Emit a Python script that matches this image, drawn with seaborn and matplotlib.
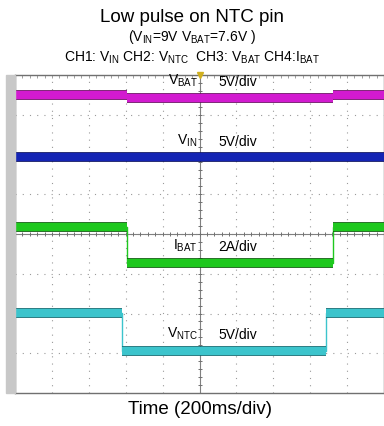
import numpy as np
import pandas as pd
import seaborn as sns
import matplotlib.pyplot as plt
import matplotlib.patheffects as pe
from matplotlib.patches import Rectangle

vbat_t = [0.0, 3.03, 8.62, 10.0]
vbat_v = [7.50, 7.42, 7.50, 7.50]

vin_t = [0.0, 10.0]
vin_v = [5.93, 5.93]

ibat_t = [0.0, 3.03, 8.62, 10.0]
ibat_v = [4.18, 3.27, 4.18, 4.18]

vntc_t = [0.0, 2.89, 8.43, 10.0]
vntc_v = [2.01, 1.06, 2.01, 2.01]

etiquetas = [r"V$_{\mathrm{BAT}}$", r"V$_{\mathrm{IN}}$", r"I$_{\mathrm{BAT}}$", r"V$_{\mathrm{NTC}}$"]
escalas = ["5V/div", "5V/div", "2A/div", "5V/div"]
colores = ["#d21ad0", "#1424b4", "#1ec81e", "#3cc4cc"]
bordes = ["#6a0a62", "#0a1060", "#0a5a0a", "#0e6a70"]

sns.set_theme(style="white")
plt.rcParams["font.family"] = ["Liberation Sans", "DejaVu Sans"]
plt.rcParams["mathtext.fontset"] = "custom"
plt.rcParams["mathtext.rm"] = "Liberation Sans"
plt.rcParams["mathtext.it"] = "Liberation Sans"
plt.rcParams["text.color"] = "black"

fig = plt.figure(figsize=(3.84, 4.26), dpi=100)
ax = fig.add_axes([15 / 384, 1 - 393 / 426, 369 / 384, 318 / 426])

# cuadricula punteada del osciloscopio
for k in range(1, 10):
    ax.axvline(k, color="#9a9a9a", lw=0.8, ls=(0, (1, 5.5)), zorder=0)
for k in range(1, 8):
    ax.axhline(k, color="#9a9a9a", lw=0.8, ls=(0, (1, 5.5)), zorder=0)
ax.axvline(5, color="#808080", lw=0.8, zorder=0)
ax.axhline(4, color="#808080", lw=0.8, zorder=0)
ticks_x = np.arange(0, 10.01, 0.2)
ticks_y = np.arange(0, 8.01, 0.2)
ax.plot(ticks_x, np.full_like(ticks_x, 4), ls="none", marker="|", ms=3, color="#707070", mew=0.7, zorder=0)
ax.plot(np.full_like(ticks_y, 5), ticks_y, ls="none", marker="_", ms=3, color="#707070", mew=0.7, zorder=0)
ax.plot(ticks_x, np.full_like(ticks_x, 7.97), ls="none", marker="|", ms=3, color="#909090", mew=0.6, zorder=0)

datos = [(vbat_t, vbat_v), (vin_t, vin_v), (ibat_t, ibat_v), (vntc_t, vntc_v)]
for (t, v), c, b in zip(datos, colores, bordes):
    df = pd.DataFrame({"t": t, "v": v})
    # flanco fino
    sns.lineplot(data=df, x="t", y="v", ax=ax, color=c, lw=1.0,
                 drawstyle="steps-post", estimator=None, sort=False, zorder=3)
    # tramos horizontales gruesos (traza con ruido)
    for i in range(len(t) - 1):
        ax.plot([t[i], t[i + 1]], [v[i], v[i]], color=c, lw=5.8, solid_capstyle="butt",
                path_effects=[pe.Stroke(linewidth=7.0, foreground=b), pe.Normal()], zorder=3)

# etiquetas de los canales
for (t, v), lab, esc in zip(datos, etiquetas, escalas):
    nivel = v[1]
    ax.text(4.95, nivel + 0.22, lab, ha="right", va="bottom", fontsize=10, color="black", zorder=4)
    ax.text(5.5, nivel + 0.22, esc, ha="left", va="bottom", fontsize=10, color="black", zorder=4)

ax.set_xlim(0, 10)
ax.set_ylim(0, 8)
ax.set_xticks([])
ax.set_yticks([])
ax.set_xlabel("")
ax.set_ylabel("")
for s in ax.spines.values():
    s.set_color("#707070")
    s.set_linewidth(1.0)

# franja gris a la izquierda y marcadores de canal
fig.patches.append(Rectangle((6 / 384, 1 - 393 / 426), 9 / 384, 318 / 426,
                             transform=fig.transFigure, color="#c8c8c8", zorder=0))
marcas = [("3", 5.95, "#c060c0"), ("1", 4.0, "#7070d0"), ("4", 3.4, "#20b020"), ("2", 1.0, "#40c0c8")]
for txt, yy, c in marcas:
    ax.text(-0.1, yy, txt, ha="center", va="center", fontsize=4.5, color="white",
            fontweight="bold", clip_on=False, zorder=5,
            bbox=dict(boxstyle="round,pad=0.15", fc=c, ec=c))
ax.plot([5], [8], marker="v", ms=4, color="#d0b020", clip_on=False, zorder=5)

fig.text(0.5, 1 - 17 / 426, "Low pulse on NTC pin", ha="center", va="center", fontsize=13.5)
fig.text(0.5, 1 - 37 / 426, r"(V$_{\mathrm{IN}}$=9V V$_{\mathrm{BAT}}$=7.6V )", ha="center", va="center", fontsize=10)
fig.text(0.5, 1 - 58 / 426,
         r"CH1: V$_{\mathrm{IN}}$ CH2: V$_{\mathrm{NTC}}$  CH3: V$_{\mathrm{BAT}}$ CH4:I$_{\mathrm{BAT}}$",
         ha="center", va="center", fontsize=10)
fig.text(0.52, 1 - 409 / 426, "Time (200ms/div)", ha="center", va="center", fontsize=13.5)

fig.savefig("out.png", dpi=100)
plt.close(fig)
